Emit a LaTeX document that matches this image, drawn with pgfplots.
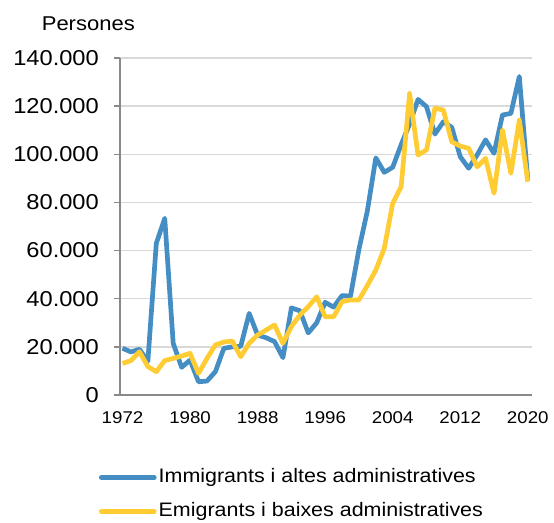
\documentclass[border=0pt]{standalone}
\usepackage{fontspec}
\setmainfont{Liberation Sans}[FakeStretch=1.1]
\usepackage{pgfplots}
\usepackage{pgfplotstable}
\pgfplotsset{compat=1.18}
\definecolor{serblue}{RGB}{68,142,196}
\definecolor{seryel}{RGB}{255,204,51}
\definecolor{axgray}{RGB}{137,137,137}
\definecolor{grdgray}{RGB}{217,217,217}
\pgfplotstableread{
year val
1972 19400
1973 17900
1974 19000
1975 14000
1976 63000
1977 73400
1978 21500
1979 11500
1980 14500
1981 5500
1982 5800
1983 9700
1984 19400
1985 20000
1986 20200
1987 33900
1988 24900
1989 23800
1990 22200
1991 15500
1992 36200
1993 35000
1994 25800
1995 30000
1996 38500
1997 36500
1998 41300
1999 41100
2000 60500
2001 76500
2002 98500
2003 92500
2004 94600
2005 104000
2006 112500
2007 122800
2008 119800
2009 108400
2010 113500
2011 111200
2012 99000
2013 94200
2014 99700
2015 106000
2016 100400
2017 116300
2018 117000
2019 132300
2020 89300
}\immig
\pgfplotstableread{
year val
1972 13100
1973 14300
1974 18000
1975 11800
1976 9700
1977 14300
1978 15200
1979 16200
1980 17300
1981 9000
1982 15200
1983 20800
1984 22000
1985 22400
1986 15900
1987 21500
1988 24900
1989 27000
1990 29100
1991 21500
1992 28400
1993 33200
1994 36700
1995 40800
1996 32500
1997 32500
1998 38800
1999 39500
2000 39500
2001 45500
2002 51900
2003 60900
2004 79600
2005 86500
2006 125300
2007 99700
2008 101800
2009 119100
2010 118400
2011 105200
2012 103400
2013 102500
2014 94800
2015 98300
2016 83800
2017 110100
2018 92100
2019 114200
2020 88600
}\emig
\begin{document}
\begin{tikzpicture}[x=1pt,y=1pt]
\useasboundingbox (0,0) rectangle (554,-522);
\node[anchor=base, font=\fontsize{20}{24}\selectfont, inner sep=0pt] at (88.3,-30.7) {Persones};
\begin{axis}[
  at={(120pt,-395pt)}, anchor=south west,
  scale only axis, width=412pt, height=337pt,
  xmin=1971.7, xmax=2020.5, ymin=0, ymax=140000,
  axis x line*=bottom, axis y line*=left,
  axis line style={draw=axgray, line width=1.3pt, -},
  xtick={1972,1980,...,2020},
  xticklabels={1972,1980,1988,1996,2004,2012,2020},
  x tick style={draw=none},
  extra x ticks={1981.6,1991.6,2001.6,2011.6},
  extra x tick labels={},
  extra x tick style={tick style={draw=axgray, line width=1.3pt}, major tick length=6pt, tick align=outside},
  ytick={0,20000,...,140000},
  y tick style={draw=axgray, line width=1.3pt},
  major tick length=6pt, tick align=outside,
  ymajorgrids, grid style={draw=grdgray, line width=1.3pt},
  scaled y ticks=false,
  yticklabel={\pgfmathprintnumber[fixed,1000 sep={.}]{\tick}},
  /pgf/number format/assume math mode=true,
  yticklabel style={font=\fontsize{21.5}{24}\selectfont, anchor=east, inner sep=0pt, xshift=-15pt},
  xticklabel style={font=\fontsize{17}{20}\selectfont, anchor=north, inner sep=0pt, yshift=-10pt},
  legend style={at={(-0.051,-0.218)}, anchor=north west, draw=none, fill=none,
    inner sep=0pt, outer sep=0pt, font=\fontsize{19.5}{22}\selectfont,
    row sep=16pt,
    nodes={inner sep=0pt, text height=14pt, text depth=4pt}},
  legend cell align=left,
  legend image code/.code={\draw[#1, line cap=round] (0pt,0pt) -- (53pt,0pt);},
]
\addplot[serblue, line width=4.7pt, line join=round] table[x=year,y=val]{\immig};
\addlegendentry{\hspace{2pt}Immigrants i altes administratives}
\addplot[seryel, line width=4.7pt, line join=round] table[x=year,y=val]{\emig};
\addlegendentry{\hspace{2pt}Emigrants i baixes administratives}
\end{axis}
\end{tikzpicture}
\end{document}
